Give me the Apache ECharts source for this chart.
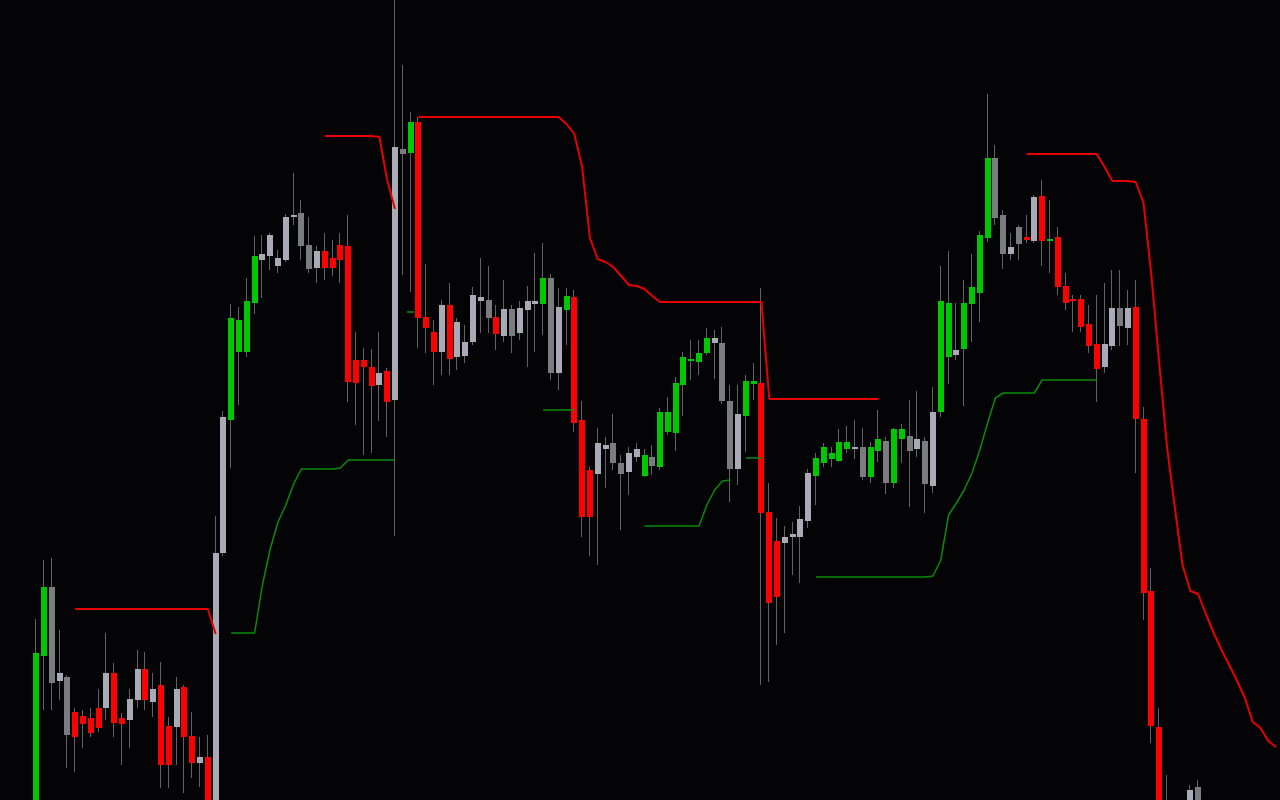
<!DOCTYPE html>
<html>
<head>
<meta charset="utf-8">
<script src="https://cdn.jsdelivr.net/npm/echarts@6/dist/echarts.min.js"></script>
<style>
html,body{margin:0;padding:0;background:#040406;overflow:hidden;}
#chart{width:1280px;height:800px;}
</style>
</head>
<body>
<div id="chart"></div>
<script>
// ---- Price data (OHLC per bar) ----
const opens = [
-30,144,213,119,123,88,84,82,92,92,
127,82,80,100,131,98,115,74,73,113,
64,37,43,-30,247,380,448,448,497,540,
544,534,540,583,587,555,532,549,542,555,
554,440,440,433,415,429,400,651,647,678,
483,468,448,495,443,444,458,499,500,483,
464,491,467,490,496,496,522,427,490,503,
380,330,326,351,357,337,328,343,324,343,
333,368,367,415,439,438,447,457,457,399,
331,384,416,417,288,259,257,263,263,279,
324,337,341,339,351,351,353,323,349,359,
317,361,364,351,359,314,388,443,445,451,
496,507,562,642,585,546,573,563,559,604,
559,563,514,501,501,476,456,433,454,492,
472,493,381,209,73,-20,-95,-120,-40,13
];
const closes = [
147,213,117,127,65,63,76,67,72,127,
77,76,101,131,100,111,35,35,111,63,
37,43,-30,247,383,482,480,499,544,546,
565,542,583,585,554,531,549,532,532,540,
418,417,433,414,427,398,653,646,678,482,
472,448,495,441,478,458,505,503,482,466,
491,464,492,499,499,522,427,493,504,377,
283,283,357,355,337,326,347,351,345,334,
388,388,417,443,441,447,462,462,399,331,
386,419,419,287,197,203,263,266,281,327,
342,353,347,358,358,353,323,353,361,317,
371,371,349,361,316,388,499,497,450,497,
513,565,642,582,546,553,556,560,603,559,
561,513,497,499,473,454,431,456,492,474,
492,381,207,74,-30,-100,-140,-60,10,-30
];
const lows = [
-45,90,90,100,32,28,52,63,68,80,
63,35,52,92,90,83,12,12,35,7,
22,13,-45,-40,244,332,395,443,486,502,
530,527,538,575,540,527,517,520,524,517,
398,375,345,347,379,363,264,525,508,452,
447,415,425,425,430,437,455,467,467,450,
458,447,460,433,448,465,420,410,455,368,
263,244,235,312,330,270,305,338,323,325,
330,365,349,384,420,425,445,421,396,298,
315,348,400,115,118,155,167,225,217,272,
295,333,333,338,347,341,320,317,338,306,
312,337,293,343,287,307,383,416,440,394,
458,478,558,575,531,540,540,557,557,534,
527,505,490,468,468,447,398,427,450,454,
455,327,180,57,-50,-110,-160,-130,-60,-50
];
const highs = [
181,240,242,170,125,92,90,92,111,167,
137,87,111,150,148,127,138,83,123,115,
88,63,65,284,389,496,493,522,564,565,
567,550,586,627,600,583,554,567,560,567,
585,468,452,451,468,432,805,735,688,683,
536,480,500,517,482,475,513,542,534,495,
520,495,499,514,547,557,526,512,512,510,
399,333,372,363,386,345,353,357,351,355,
392,403,423,448,460,460,472,470,473,415,
415,425,437,512,317,282,274,278,294,331,
347,357,353,371,374,380,372,358,390,363,
372,376,400,409,363,413,534,549,497,520,
546,569,706,655,590,567,575,585,605,620,
600,573,527,505,505,495,505,517,530,530,
510,520,393,232,92,25,-80,-40,15,20
];
// trend state per bar: 1 = up (green), -1 = down (red), 0 = neutral (grey)
const trend = [
1,1,0,0,0,-1,-1,-1,-1,0,
-1,-1,0,0,-1,0,-1,-1,0,-1,
-1,0,-1,0,0,1,1,1,1,0,
0,0,0,0,0,0,0,-1,-1,-1,
-1,-1,-1,-1,0,-1,0,0,1,-1,
-1,-1,0,-1,0,0,0,0,0,-1,
0,0,0,0,0,1,0,0,1,-1,
-1,-1,0,0,0,0,0,0,1,0,
1,1,1,1,1,1,1,0,0,0,
0,1,1,-1,-1,-1,0,0,0,0,
1,1,1,1,1,0,0,1,1,0,
1,1,0,0,0,0,1,1,0,1,
1,1,1,0,0,0,0,-1,0,-1,
1,-1,-1,-1,-1,-1,-1,0,0,0,
0,-1,-1,-1,-1,-1,-1,0,0,0
];
// ---- Indicator bands (null = no line) ----
const N = null;
const upperBand = [
N,N,N,N,N,
191,191,191,191,191,191,191,191,191,191,191,191,191,191,191,191,191,191,
166,
N,N,N,N,N,N,N,N,N,N,N,N,N,
664,664,664,664,664,664,664,
663,620,591,
N,N,
683,683,683,683,683,683,683,683,683,683,683,683,683,683,683,683,683,683,683,
676,666,633,562,541,538,533,524,515,514,511,504,
498,498,498,498,498,498,498,498,498,498,498,498,498,498,
401,401,401,401,401,401,401,401,401,401,401,401,401,401,401,
N,N,N,N,N,N,N,N,N,N,N,N,N,N,N,N,N,N,
646,646,646,646,646,646,646,646,646,646,
633,619,619,619,
618,597,525,438,354,293,235,209,206,186,167,150,135,119,102,78,72,59,53
];
const lowerBand = [
N,N,N,N,N,N,N,N,N,N,N,N,N,N,N,N,N,N,N,N,N,N,N,N,N,
167,167,167,167,
215,251,278,295,316,
331,331,331,331,331,
332,
340,340,340,340,340,340,340,
N,
488,
N,N,N,N,N,N,N,N,N,N,N,N,N,N,N,N,
390,390,390,390,390,
N,N,N,N,N,N,N,N,
274,274,274,274,274,274,274,274,
295,310,319,320,
N,
342,342,342,
N,N,N,N,N,N,
223,223,223,223,223,223,223,223,223,223,223,223,223,223,223,
224,240,285,297,310,327,350,377,402,
407,407,407,407,407,
420,420,420,420,420,420,420,420,
N,N,N,N,N,N,N,N,N,N,N,N,N,N,N,N,N,N,N,N,N,N,N
];
const barLabels = upperBand.map((_, i) => 'Bar ' + (i + 1));

const COLORS = {
  bg: '#040406',
  up: '#00c800',
  down: '#ff0000',
  flatUp: '#a8abb6',
  flatDown: '#7b7c80',
  wick: '#626266',
  upperLine: '#e80000',
  lowerLine: '#0a8a0a'
};

const candleData = opens.map((o, i) => [i, o, closes[i], lows[i], highs[i], trend[i]]);

// isolated single-bar points of the lower band (drawn as a short dash)
const lowerDots = lowerBand.map((v, i) =>
  (v !== null && lowerBand[i - 1] == null && lowerBand[i + 1] == null) ? [i, v] : null
).filter(Boolean);

function renderCandle(params, api) {
  const i = api.value(0);
  const o = api.value(1), c = api.value(2), l = api.value(3), h = api.value(4), t = api.value(5);
  const po = api.coord([i, o]);
  const pc = api.coord([i, c]);
  const pl = api.coord([i, l]);
  const ph = api.coord([i, h]);
  const band = api.size([1, 0])[0];
  const bw = Math.max(2, Math.round(band * 0.77));
  const cx = po[0];
  const left = Math.round(cx - bw / 2);
  let top = Math.min(po[1], pc[1]);
  let hgt = Math.abs(po[1] - pc[1]);
  if (hgt < 2) { top -= (2 - hgt) / 2; hgt = 2; }
  let fill;
  if (t > 0) fill = COLORS.up;
  else if (t < 0) fill = COLORS.down;
  else fill = c >= o ? COLORS.flatUp : COLORS.flatDown;
  const wx = Math.round(cx) - 0.5;
  return {
    type: 'group',
    children: [
      { type: 'line', shape: { x1: wx, y1: ph[1], x2: wx, y2: pl[1] },
        style: { stroke: COLORS.wick, lineWidth: 1 } },
      { type: 'rect', shape: { x: left, y: top, width: bw, height: hgt },
        style: { fill: fill } }
    ]
  };
}

const chart = echarts.init(document.getElementById('chart'), null, { renderer: 'canvas' });
chart.setOption({
  backgroundColor: COLORS.bg,
  animation: false,
  grid: { left: 32.4, top: 0, width: 1248, height: 800, containLabel: false },
  xAxis: {
    type: 'category',
    data: barLabels,
    boundaryGap: true,
    show: false
  },
  yAxis: {
    type: 'value',
    min: 0,
    max: 800,
    show: false,
    splitLine: { show: false }
  },
  series: [
    {
      type: 'custom',
      name: 'Price',
      renderItem: renderCandle,
      encode: { x: 0, y: [1, 2, 3, 4] },
      data: candleData,
      z: 2
    },
    {
      type: 'line',
      name: 'Upper',
      data: upperBand,
      symbol: 'none',
      connectNulls: false,
      lineStyle: { color: COLORS.upperLine, width: 2 },
      z: 5
    },
    {
      type: 'line',
      name: 'Lower',
      data: lowerBand,
      symbol: 'none',
      connectNulls: false,
      lineStyle: { color: COLORS.lowerLine, width: 1.5 },
      z: 5
    },
    {
      type: 'scatter',
      name: 'Lower dot',
      data: lowerDots,
      symbol: 'rect',
      symbolSize: [7, 2],
      itemStyle: { color: COLORS.lowerLine },
      z: 5
    }
  ]
});
</script>
</body>
</html>
